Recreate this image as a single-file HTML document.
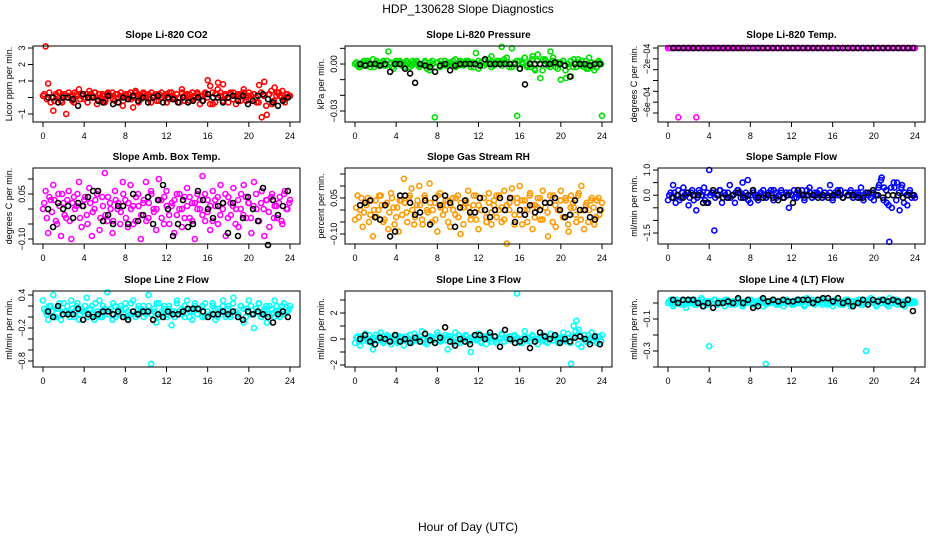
<!DOCTYPE html>
<html><head><meta charset="utf-8"><style>
html,body{margin:0;padding:0;background:#fff;}
svg{display:block;font-family:"Liberation Sans",sans-serif;}
</style></head><body>
<svg id="chart" width="936" height="540" viewBox="0 0 936 540" xmlns="http://www.w3.org/2000/svg">
<rect width="936" height="540" fill="#fff"/>
<text x="468" y="13" text-anchor="middle" font-size="12">HDP_130628  Slope Diagnostics</text>
<text x="468" y="531" text-anchor="middle" font-size="12">Hour of Day (UTC)</text>
<g id="panels"></g>
</svg>
<script>
// ---- data arrays ----
const xTicks = [0,4,8,12,16,20,24];
const titles = ["Slope Li-820 CO2","Slope Li-820 Pressure","Slope Li-820 Temp.","Slope Amb. Box Temp.","Slope Gas Stream RH","Slope Sample Flow","Slope Line 2 Flow","Slope Line 3 Flow","Slope Line 4 (LT) Flow"];
const yTitles = ["Licor ppm per min.","kPa per min.","degrees C per min.","degrees C per min.","percent per min.","ml/min per min.","ml/min per min.","ml/min per min.","ml/min per min."];
const colors = ["#ff0000","#00e000","#ff00ff","#ff00ff","#ff9900","#0000ff","#00ffff","#00ffff","#00ffff"];
const yTicks0 = [-1,0,1,2,3];           const yLab0 = ["-1","","1","2","3"];
const yTicks1 = [-0.03,-0.02,-0.01,0,0.01]; const yLab1 = ["-0.03","","","0.00",""];
const yTicks2 = [-7e-4,-6e-4,-5e-4,-4e-4,-3e-4,-2e-4,-1e-4]; const yLab2 = ["","-6e-04","","","","-2e-04",""];
const yTicks3 = [-0.1,-0.05,0,0.05,0.1]; const yLab3 = ["-0.10","","","0.05",""];
const yTicks4 = [-0.1,-0.05,0,0.05,0.1,0.15]; const yLab4 = ["-0.10","","","0.05","",""];
const yTicks5 = [-1.5,-1,-0.5,0,0.5,1]; const yLab5 = ["-1.5","","","0.0","","1.0"];
const yTicks6 = [-0.8,-0.6,-0.4,-0.2,0,0.2,0.4]; const yLab6 = ["-0.8","","","-0.2","","","0.4"];
const yTicks7 = [-2,-1,0,1,2,3]; const yLab7 = ["-2","","0","","2",""];
const yTicks8 = [-0.4,-0.3,-0.2,-0.1,0]; const yLab8 = ["","-0.3","","-0.1",""];
// colored series A (every 15 min)
const c0 = [0.1,3.1,0.85,-0.3,-0.8,0.2,0.3,-0.2,0.1,-1.0,0.3,0.1,-0.3,0.2,0.5,0.1,-0.1,0.2,0.4,0.0,0.3,-0.4,0.2,0.1,-0.3,0.2,0.1,0.3,-0.2,0.2,0.1,-0.5,0.2,0.0,0.3,-0.6,0.4,0.2,-0.1,0.3,0.1,0.2,-0.3,0.1,0.2,-0.2,0.3,0.1,0.2,-0.1,0.3,0.0,0.2,-0.3,0.5,0.1,0.2,-0.2,0.3,0.1,0.2,-0.4,0.1,0.3,1.05,0.7,-0.4,0.2,0.9,0.3,0.8,0.1,-0.3,0.2,0.3,-0.4,0.1,0.2,0.5,-0.2,0.3,0.1,0.2,-0.3,0.75,-1.2,0.95,-1.05,0.2,-0.4,0.6,0.3,0.1,0.4,-0.3,0.2,0.1];
const c1 = [0.000,-0.001,-0.002,0.001,0.000,0.002,-0.002,0.003,0.001,-0.001,0.000,0.002,-0.001,0.008,0.001,-0.003,0.002,0.000,0.001,-0.002,0.002,0.000,-0.001,0.001,0.002,-0.002,0.000,0.001,-0.003,-0.004,0.002,-0.034,0.001,-0.002,0.000,0.002,-0.001,0.001,0.000,0.003,-0.001,0.002,0.000,0.001,0.002,-0.002,0.001,0.007,-0.003,0.001,0.002,0.000,0.001,0.005,-0.001,0.002,0.001,0.011,0.003,0.001,-0.002,0.010,0.000,-0.033,0.002,0.001,0.004,-0.001,-0.002,0.005,-0.004,0.006,-0.009,0.003,0.002,-0.001,0.008,0.004,-0.002,0.001,-0.010,0.002,-0.009,-0.002,-0.008,0.003,-0.002,0.001,0.002,-0.002,-0.003,0.004,0.001,-0.004,-0.002,0.001,-0.033];
const c2 = [-1e-4,-1e-4,-1e-4,-1e-4,-7.4e-4,-1e-4,-1e-4,-1e-4,-1e-4,-1e-4,-1e-4,-7.4e-4,-1e-4,-1e-4,-1e-4,-1e-4,-1e-4,-1e-4,-1e-4,-1e-4,-1e-4,-1e-4,-1e-4,-1e-4,-1e-4,-1e-4,-1e-4,-1e-4,-1e-4,-1e-4,-1e-4,-1e-4,-1e-4,-1e-4,-1e-4,-1e-4,-1e-4,-1e-4,-1e-4,-1e-4,-1e-4,-1e-4,-1e-4,-1e-4,-1e-4,-1e-4,-1e-4,-1e-4,-1e-4,-1e-4,-1e-4,-1e-4,-1e-4,-1e-4,-1e-4,-1e-4,-1e-4,-1e-4,-1e-4,-1e-4,-1e-4,-1e-4,-1e-4,-1e-4,-1e-4,-1e-4,-1e-4,-1e-4,-1e-4,-1e-4,-1e-4,-1e-4,-1e-4,-1e-4,-1e-4,-1e-4,-1e-4,-1e-4,-1e-4,-1e-4,-1e-4,-1e-4,-1e-4,-1e-4,-1e-4,-1e-4,-1e-4,-1e-4,-1e-4,-1e-4,-1e-4,-1e-4,-1e-4,-1e-4,-1e-4,-1e-4,-1e-4];
const c3 = [0.0,0.06,-0.08,0.03,0.08,-0.04,0.05,-0.09,0.02,-0.03,0.06,-0.1,0.04,0.01,0.09,-0.06,0.03,-0.02,0.07,-0.09,0.0,0.05,-0.07,0.04,0.12,-0.04,0.02,-0.08,0.06,0.0,-0.05,0.09,0.03,-0.06,0.08,0.01,-0.04,0.05,-0.1,0.02,0.09,-0.03,0.06,0.0,-0.07,0.1,0.03,-0.05,0.06,-0.02,0.01,-0.08,0.05,0.0,-0.06,0.04,0.07,-0.03,0.02,-0.1,0.05,0.0,0.11,-0.04,0.03,-0.07,0.06,0.01,-0.05,0.08,0.02,-0.09,0.04,-0.02,0.07,0.0,-0.06,0.05,0.08,-0.03,0.02,-0.08,0.09,0.0,-0.04,0.06,-0.09,0.03,-0.06,0.05,0.01,-0.03,0.04,-0.05,0.06,0.0,0.03];
const c4 = [-0.04,0.06,0.0,-0.07,0.03,0.05,-0.02,-0.11,0.04,0.0,0.06,-0.05,0.02,-0.08,0.07,0.01,-0.03,-0.09,0.04,0.13,-0.01,0.05,0.09,-0.06,0.02,0.1,-0.04,0.06,0.0,0.11,-0.05,0.03,-0.09,0.07,0.02,0.0,0.04,-0.07,0.05,-0.02,0.06,-0.1,0.01,0.03,0.08,-0.04,0.02,0.06,-0.08,0.0,0.05,-0.03,0.07,-0.06,0.02,0.06,0.0,-0.05,0.08,-0.14,0.03,0.09,-0.02,0.05,0.1,-0.06,0.04,0.0,0.07,-0.08,0.02,0.05,-0.04,0.08,0.01,-0.11,0.03,0.06,-0.07,0.0,0.08,-0.03,0.04,-0.09,0.06,0.01,-0.05,0.07,0.1,-0.08,0.03,0.0,0.05,-0.06,0.04,-0.02,0.03];
const c5 = [-0.2,0.1,0.4,-0.3,0.2,-0.1,0.3,0.0,-0.4,0.1,-0.2,-0.6,0.2,0.0,0.3,-0.3,1.0,0.1,-1.4,0.0,0.2,-0.3,0.1,-0.1,0.4,0.0,-0.3,0.2,0.1,0.5,-0.1,0.6,-0.3,0.2,0.0,-0.2,0.1,0.2,-0.1,0.0,0.2,-0.2,0.1,0.0,0.2,-0.1,0.1,-0.5,0.0,0.2,-0.1,0.1,0.0,-0.2,0.2,0.3,-0.1,0.1,0.0,0.2,-0.1,0.1,0.0,0.4,-0.2,0.1,0.0,0.2,-0.1,0.1,0.0,0.2,-0.1,0.1,0.0,0.3,-0.2,0.1,0.0,0.1,-0.2,0.0,0.4,0.7,0.3,-0.3,-1.85,-0.5,0.3,0.5,-0.6,0.4,0.1,-0.4,0.2,0.0,-0.1];
const c6 = [0.3,0.1,-0.05,0.2,0.4,0.0,0.15,-0.05,0.25,0.1,0.05,0.3,0.0,0.2,-0.05,0.15,0.1,0.35,0.05,0.2,-0.05,0.1,0.3,0.0,0.15,0.45,0.1,-0.05,0.2,0.05,0.15,0.0,0.25,0.1,0.05,0.3,0.0,0.15,0.1,0.2,0.05,0.4,-0.85,0.1,-0.1,0.25,0.05,0.15,0.0,0.2,-0.15,0.1,0.3,0.05,0.15,0.0,0.3,0.1,-0.05,0.2,0.05,0.15,0.0,0.25,0.1,0.05,0.2,-0.05,0.15,0.1,0.3,0.0,0.2,0.05,0.35,0.1,0.0,0.2,-0.1,0.15,0.3,0.05,-0.2,0.1,0.25,0.0,0.15,-0.1,0.2,0.05,0.3,0.1,0.0,0.2,0.05,0.1,0.2];
const c7 = [-0.3,0.2,-0.5,0.1,0.4,-0.2,0.0,-0.8,0.3,-0.1,0.5,-0.3,0.1,0.2,-0.4,0.0,0.3,-0.2,0.1,-0.5,0.2,0.0,-0.3,0.4,0.1,-0.2,0.6,0.0,-0.4,0.2,0.1,-0.3,0.5,-0.1,0.0,0.3,-0.8,0.2,-0.2,0.5,0.0,-0.3,0.1,0.3,-0.1,-1.0,0.2,0.0,0.4,-0.2,0.1,-0.4,0.3,0.0,0.2,-0.3,0.1,0.4,-0.2,0.0,0.2,-0.1,0.3,3.5,0.0,-0.3,0.6,0.1,-0.2,0.2,0.0,-0.4,0.1,0.3,-0.2,0.0,0.4,-0.1,0.2,-0.3,0.0,0.5,-0.2,0.1,-1.9,1.0,1.4,0.7,-0.6,0.3,0.0,-0.2,0.5,0.1,-0.3,0.2,0.3];
const c8 = [0.0,0.02,-0.02,0.01,0.0,-0.01,0.02,-0.03,0.01,0.0,0.02,-0.01,0.0,0.03,-0.02,0.01,-0.27,0.0,0.02,-0.01,0.01,0.0,-0.02,0.02,0.0,0.01,-0.01,0.02,0.0,-0.02,0.01,0.0,0.02,-0.01,0.01,0.0,0.02,-0.02,-0.38,0.01,0.0,0.02,-0.01,0.01,0.0,-0.02,0.02,0.01,0.0,-0.01,0.02,0.0,0.01,-0.02,0.03,0.0,0.01,-0.01,0.02,0.0,-0.01,0.02,0.0,0.01,-0.02,0.02,0.0,0.01,-0.01,0.02,0.0,-0.02,0.01,0.0,0.02,-0.01,0.0,-0.30,0.02,0.01,0.0,-0.02,0.02,0.0,0.01,-0.01,0.03,0.0,0.02,-0.01,0.01,0.0,-0.02,0.02,0.0,0.01,0.0];
// colored series B (offset 7.5 min)
const d0 = [0.2,-0.1,0.3,0.0,-0.2,0.1,0.3,-0.3,0.2,0.0,0.1,-0.2,0.3,0.1,-0.1,0.2,0.0,-0.3,0.2,0.1,0.3,-0.1,0.0,0.2,-0.2,0.3,0.1,-0.1,0.2,0.0,0.3,-0.2,0.1,0.2,-0.1,0.0,0.3,-0.3,0.1,0.2,0.0,-0.1,0.3,0.1,-0.2,0.2,0.0,0.1,-0.3,0.3,0.1,-0.1,0.2,0.0,0.3,-0.2,0.1,0.2,-0.1,0.0,0.3,0.1,-0.2,0.2,0.0,-0.4,0.3,-0.3,0.5,0.1,-0.2,0.2,0.0,0.3,-0.1,0.1,0.2,-0.2,0.3,0.0,0.1,-0.1,0.2,0.0,-0.3,0.3,0.1,-0.5,0.2,0.4,-0.2,0.1,0.3,0.0,-0.1,0.2,0.1];
const d1 = [0.001,-0.002,0.000,0.002,-0.001,0.001,0.000,-0.002,0.002,0.000,0.001,-0.001,0.002,0.000,-0.002,0.001,0.000,0.002,-0.001,0.000,0.001,-0.002,0.002,0.000,0.001,-0.001,0.000,0.002,-0.001,0.001,0.000,-0.002,0.001,0.002,0.000,-0.001,0.001,0.000,0.002,-0.002,0.000,0.001,-0.001,0.002,0.000,0.001,-0.002,0.000,0.002,0.001,-0.001,0.000,0.003,-0.002,0.001,0.000,0.002,-0.001,0.001,0.004,0.000,-0.002,0.001,0.002,-0.003,0.000,0.004,-0.002,0.001,0.003,-0.003,0.002,0.000,-0.004,0.003,0.001,-0.002,0.002,0.000,-0.003,0.001,0.002,-0.004,0.000,0.002,-0.002,0.001,0.003,-0.001,0.000,0.002,-0.003,0.001,0.000,-0.002,0.002,0.000];
const d2 = [-1e-4,-1e-4,-1e-4,-1e-4,-1e-4,-1e-4,-1e-4,-1e-4,-1e-4,-1e-4,-1e-4,-1e-4,-1e-4,-1e-4,-1e-4,-1e-4,-1e-4,-1e-4,-1e-4,-1e-4,-1e-4,-1e-4,-1e-4,-1e-4,-1e-4,-1e-4,-1e-4,-1e-4,-1e-4,-1e-4,-1e-4,-1e-4,-1e-4,-1e-4,-1e-4,-1e-4,-1e-4,-1e-4,-1e-4,-1e-4,-1e-4,-1e-4,-1e-4,-1e-4,-1e-4,-1e-4,-1e-4,-1e-4,-1e-4];
const d3 = [0.02,-0.03,0.04,-0.01,0.03,-0.05,0.01,0.05,-0.02,0.03,-0.04,0.02,0.0,0.05,-0.03,0.01,0.04,-0.05,0.02,-0.01,0.03,0.06,-0.03,0.01,-0.02,0.04,0.0,-0.04,0.03,0.02,-0.01,0.05,-0.03,0.02,0.0,-0.05,0.04,0.01,-0.02,0.03,-0.04,0.02,0.05,-0.01,0.0,0.03,-0.03,0.04,0.01,-0.05,0.02,0.03,-0.02,0.05,0.0,-0.03,0.01,0.04,-0.04,0.02,0.0,0.03,-0.02,0.05,-0.01,0.01,-0.04,0.03,0.04,-0.02,0.0,0.05,-0.03,0.02,0.01,-0.05,0.03,0.0,-0.02,0.04,0.02,-0.03,0.01,0.05,-0.04,0.02,0.0,0.03,-0.01,0.04,-0.03,0.01,0.02,-0.04,0.05,0.0,0.02];
const d4 = [0.01,-0.03,0.05,-0.01,0.02,-0.05,0.04,0.0,-0.03,0.06,0.02,-0.04,0.03,-0.01,0.05,-0.06,0.01,0.04,-0.02,0.03,-0.05,0.06,0.0,-0.03,0.04,0.02,-0.06,0.05,-0.01,0.03,0.0,-0.04,0.06,0.01,-0.02,0.04,-0.05,0.02,0.0,0.05,-0.03,0.03,-0.06,0.04,0.01,-0.02,0.06,-0.04,0.02,0.0,0.05,-0.05,0.03,-0.01,0.04,-0.03,0.06,0.01,-0.04,0.02,0.0,0.05,-0.06,0.03,-0.02,0.04,0.0,-0.05,0.06,0.02,-0.03,0.01,0.05,-0.04,0.03,-0.01,0.06,-0.05,0.02,0.0,0.04,-0.03,0.05,-0.06,0.01,0.03,-0.02,0.06,-0.04,0.0,0.02,-0.05,0.04,0.01,-0.03,0.05,0.0];
const d5 = [0.0,-0.1,0.1,0.0,-0.2,0.1,0.0,0.1,-0.1,0.2,0.0,-0.1,0.1,0.0,-0.2,0.1,0.0,0.1,-0.1,0.0,0.2,-0.1,0.0,0.1,-0.1,0.0,0.1,0.2,-0.1,0.0,0.1,-0.2,0.0,0.1,-0.1,0.0,0.1,0.0,-0.1,0.1,0.0,0.2,-0.1,0.0,0.1,-0.1,0.0,0.1,0.0,-0.1,0.1,0.0,0.2,-0.1,0.0,0.1,-0.1,0.0,0.1,0.0,-0.1,0.1,0.0,0.1,-0.1,0.0,0.2,0.0,-0.1,0.1,0.0,0.1,-0.1,0.0,0.1,-0.1,0.0,0.1,0.0,-0.1,0.1,0.0,0.3,0.6,-0.2,0.2,-0.4,0.3,0.5,-0.2,0.1,0.3,-0.3,0.0,0.1,-0.1,0.0];
const d6 = [0.15,0.05,0.2,0.1,0.0,0.15,0.25,0.05,0.1,0.2,0.0,0.15,0.1,0.25,0.05,0.1,0.2,0.0,0.15,0.05,0.25,0.1,0.0,0.2,0.1,0.05,0.15,0.25,0.0,0.1,0.2,0.05,0.15,0.0,0.25,0.1,0.05,0.2,0.15,0.0,0.1,0.2,0.05,0.15,0.25,0.0,0.1,0.2,0.05,0.15,0.1,0.0,0.25,0.1,0.05,0.2,0.15,0.0,0.1,0.25,0.05,0.15,0.2,0.0,0.1,0.05,0.25,0.15,0.0,0.1,0.2,0.05,0.15,0.0,0.25,0.1,0.05,0.2,0.15,0.0,0.1,0.2,0.05,0.15,0.25,0.0,0.1,0.2,0.05,0.15,0.0,0.2,0.1,0.05,0.25,0.1,0.15];
const d7 = [0.1,-0.2,0.2,-0.1,0.0,0.3,-0.3,0.1,-0.1,0.2,0.0,-0.2,0.3,-0.1,0.1,0.0,-0.3,0.2,0.1,-0.1,0.0,0.3,-0.2,0.1,-0.1,0.2,0.0,-0.3,0.1,0.2,-0.1,0.0,0.3,-0.2,0.1,-0.1,0.2,0.0,-0.3,0.1,0.3,-0.1,0.0,0.2,-0.2,0.1,0.0,-0.1,0.3,-0.3,0.2,0.0,0.1,-0.2,0.2,-0.1,0.0,0.3,-0.2,0.1,0.0,-0.1,0.2,0.1,-0.3,0.0,0.2,-0.1,0.1,0.3,-0.2,0.0,0.1,-0.1,0.2,-0.3,0.0,0.1,0.3,-0.2,0.1,0.0,-0.1,0.4,-0.3,0.2,0.6,-0.4,0.2,0.0,-0.2,0.3,0.1,-0.1,0.0,0.2,-0.2];
const d8 = [0.01,0.0,-0.01,0.02,0.0,0.01,-0.01,0.0,0.02,0.01,-0.01,0.0,0.01,0.02,0.0,-0.01,0.01,0.0,0.02,-0.01,0.0,0.01,0.02,0.0,-0.01,0.01,0.0,0.02,0.01,-0.01,0.0,0.01,0.02,0.0,-0.01,0.01,0.0,0.02,-0.01,0.0,0.01,0.02,0.0,-0.01,0.01,0.0,0.02,0.01,-0.01,0.0,0.01,0.02,0.0,-0.01,0.01,0.0,0.02,-0.01,0.0,0.01,0.02,0.0,-0.01,0.01,0.0,0.02,0.01,-0.01,0.0,0.01,0.02,0.0,-0.01,0.01,0.0,0.02,-0.01,0.0,0.01,0.03,0.0,-0.01,0.01,0.0,0.02,0.01,-0.02,0.0,0.01,0.02,0.0,-0.01,0.01,0.0,0.02,0.0,0.01];
// black series (every 30 min)
const k0 = [0.0,0.0,-0.3,0.0,0.0,-0.1,-0.5,0.2,0.0,0.0,-0.2,-0.3,0.1,-0.4,-0.3,0.0,-0.1,0.1,-0.2,0.0,-0.3,0.0,0.1,-0.3,0.0,-0.1,-0.3,0.0,-0.3,-0.2,0.0,-0.2,0.2,0.0,0.0,-0.3,0.0,0.1,-0.2,0.1,-0.4,-0.2,0.1,0.2,-0.1,-0.3,-0.5,-0.2,0.0];
const k1 = [0.000,-0.001,0.000,0.000,-0.001,0.000,-0.005,0.000,0.000,-0.003,-0.006,-0.012,0.000,-0.001,-0.002,-0.005,-0.001,0.000,-0.004,-0.001,0.000,0.000,0.000,0.000,-0.001,0.003,0.000,0.000,0.000,0.000,0.000,0.000,-0.003,-0.013,0.000,0.000,0.000,0.000,0.000,0.001,0.000,-0.001,-0.008,0.000,0.000,0.000,-0.001,0.000,0.000];
const k2 = [-1e-4,-1e-4,-1e-4,-1e-4,-1e-4,-1e-4,-1e-4,-1e-4,-1e-4,-1e-4,-1e-4,-1e-4,-1e-4,-1e-4,-1e-4,-1e-4,-1e-4,-1e-4,-1e-4,-1e-4,-1e-4,-1e-4,-1e-4,-1e-4,-1e-4,-1e-4,-1e-4,-1e-4,-1e-4,-1e-4,-1e-4,-1e-4,-1e-4,-1e-4,-1e-4,-1e-4,-1e-4,-1e-4,-1e-4,-1e-4,-1e-4,-1e-4,-1e-4,-1e-4,-1e-4,-1e-4,-1e-4,-1e-4,-1e-4];
const k3 = [0.0,-0.06,0.02,0.0,0.01,-0.03,0.02,0.01,0.04,0.06,0.06,-0.04,-0.02,-0.05,0.01,0.01,-0.05,0.05,-0.04,-0.02,0.04,-0.05,0.03,0.08,0.0,-0.09,-0.05,0.03,-0.06,-0.05,0.06,0.03,0.0,-0.03,0.01,0.02,-0.08,0.02,-0.09,-0.03,0.04,0.0,-0.04,0.07,-0.12,0.03,-0.02,0.01,0.06];
const k4 = [0.02,0.03,0.04,-0.03,-0.04,0.02,-0.11,-0.09,0.06,0.06,0.03,-0.02,-0.01,0.04,-0.06,0.05,0.02,0.06,0.03,-0.07,0.01,0.04,-0.01,-0.01,0.05,0.0,-0.03,0.0,0.05,0.0,0.05,-0.05,0.0,-0.02,0.02,-0.01,0.0,0.03,0.03,0.05,0.0,-0.03,-0.02,0.04,0.0,0.0,-0.03,-0.04,0.0];
const k5 = [-0.1,0.0,-0.1,0.1,0.0,0.0,-0.3,-0.3,0.2,0.0,-0.1,-0.1,0.0,0.1,-0.1,0.0,0.2,-0.1,-0.1,0.0,-0.1,-0.2,-0.1,0.0,-0.3,0.2,0.0,0.0,0.0,-0.1,0.0,-0.1,0.0,0.1,-0.1,0.0,0.0,-0.1,-0.1,0.1,0.2,0.0,-0.1,0.0,0.0,0.0,-0.1,0.0,0.0];
const k6 = [0.1,0.0,0.2,0.05,0.05,0.05,0.15,-0.05,0.05,0.0,0.05,0.1,0.1,0.05,0.1,0.0,-0.05,0.1,0.05,0.1,0.1,-0.05,0.05,0.0,0.1,0.05,0.05,0.1,0.15,0.15,0.15,0.1,0.0,0.05,0.05,0.1,0.05,0.1,0.0,-0.05,0.1,0.05,0.1,0.05,0.0,-0.1,0.05,0.1,0.0];
const k7 = [0.0,0.3,-0.2,-0.4,0.1,0.0,-0.2,0.3,-0.2,0.0,-0.3,0.1,-0.2,0.4,-0.1,-0.3,0.1,0.9,-0.2,-0.5,0.0,-0.2,-0.4,0.3,0.3,0.0,0.5,0.2,-0.6,0.7,0.0,-0.3,-0.2,0.0,-0.7,-0.2,0.5,0.2,0.0,0.3,-0.3,0.0,-0.2,0.1,0.2,0.0,-0.4,0.2,-0.4];
const k8 = [0.02,0.0,0.02,0.02,0.02,0.0,-0.02,0.0,-0.03,0.0,0.0,0.01,0.0,0.03,0.0,0.02,-0.03,-0.02,0.03,0.01,0.02,0.01,0.02,0.01,0.01,0.02,0.02,0.02,0.0,0.02,0.03,0.03,0.01,0.03,0.0,0.01,-0.02,0.0,0.02,-0.01,0.02,0.01,0.02,0.01,0.02,0.01,-0.01,0.02,-0.05];
// ---- layout ----
const colX = [43,355,668];
const rowBox = [[46,122],[168,244],[291,367]];
const yMaps = [[3,48,-1,114],[0,64,-0.03,111],[-1e-4,48,-7e-4,113],[0.05,194,-0.1,239],[0.05,198,-0.1,234],[1.0,170,-1.5,233],[0.4,295,-0.8,361],[2,313,-2,365],[-0.1,319,-0.3,351]];
const allTicks=[yTicks0,yTicks1,yTicks2,yTicks3,yTicks4,yTicks5,yTicks6,yTicks7,yTicks8];
const allLabs=[yLab0,yLab1,yLab2,yLab3,yLab4,yLab5,yLab6,yLab7,yLab8];
const colSer=[c0,c1,c2,c3,c4,c5,c6,c7,c8];
const colSerB=[d0,d1,d2,d3,d4,d5,d6,d7,d8];
const blkSer=[k0,k1,k2,k3,k4,k5,k6,k7,k8];
const NS="http://www.w3.org/2000/svg";
const root=document.getElementById('panels');
function mk(tag,attrs,parent){const e=document.createElementNS(NS,tag);for(const k in attrs)e.setAttribute(k,attrs[k]);parent.appendChild(e);return e;}
for(let p=0;p<9;p++){
  const col=p%3,row=Math.floor(p/3);
  const x0=colX[col], pxh=247/24;
  const xs=h=>x0+h*pxh;
  const m=yMaps[p];
  const ys=v=>m[1]+(v-m[0])*(m[3]-m[1])/(m[2]-m[0]);
  const [bt,bb]=rowBox[row];
  const bl=x0-10, br=x0+257;
  const g=mk('g',{},root);
  
  
  const cg=mk('g',{fill:'none',stroke:colors[p],'stroke-width':1.6},g);
  
  
  const cs=colSer[p];
  cs.forEach((v,i)=>{const h=i*24/(cs.length-1);
    const c=mk('circle',{cx:xs(h).toFixed(1),cy:ys(v).toFixed(1),r:2.5},cg);
    
    });
  const ds=colSerB[p];
  ds.forEach((v,i)=>{const h=0.12+i*23.8/(ds.length-1);
    const c=mk('circle',{cx:xs(h).toFixed(1),cy:ys(v).toFixed(1),r:2.5},cg);
    
    });
  const kg=mk('g',{fill:'none',stroke:'#000','stroke-width':1.6},g);
  
  
  const ks=blkSer[p];
  ks.forEach((v,i)=>{const h=0.5+i*23.3/(ks.length-1);
    const c=mk('circle',{cx:xs(h).toFixed(1),cy:ys(v).toFixed(1),r:2.5},kg);
    
    });
  const box=mk('rect',{x:bl,y:bt,width:br-bl,height:bb-bt,fill:'none',stroke:'#000','stroke-width':1},g);
  
  
  const t=mk('text',{x:(bl+br)/2,y:bt-8,'text-anchor':'middle','font-size':10,'font-weight':'bold'},g);
  t.textContent=titles[p];
  
  
  mk('line',{x1:xs(0),x2:xs(24),y1:bb,y2:bb,stroke:'#000'},g);
  xTicks.forEach(h=>{mk('line',{x1:xs(h),x2:xs(h),y1:bb,y2:bb+5,stroke:'#000'},g);
    const l=mk('text',{x:xs(h),y:bb+17,'text-anchor':'middle','font-size':9},g);l.textContent=h;
    
    });
  const tk=allTicks[p], lb=allLabs[p];
  mk('line',{x1:bl,x2:bl,y1:ys(tk[0]),y2:ys(tk[tk.length-1]),stroke:'#000'},g);
  tk.forEach((v,i)=>{const y=ys(v);mk('line',{x1:bl-5,x2:bl,y1:y,y2:y,stroke:'#000'},g);
    if(lb[i]){const l=mk('text',{x:0,y:0,transform:`translate(${bl-8},${y}) rotate(-90)`,'text-anchor':'middle','font-size':9},g);
      l.textContent=lb[i].replace(/-/g,'\u2212');
      
      }});
  const yt=mk('text',{x:0,y:0,transform:`translate(${bl-21},${(bt+bb)/2}) rotate(-90)`,'text-anchor':'middle','font-size':9},g);
  yt.textContent=yTitles[p];
  
  
}
</script>
</body></html>
